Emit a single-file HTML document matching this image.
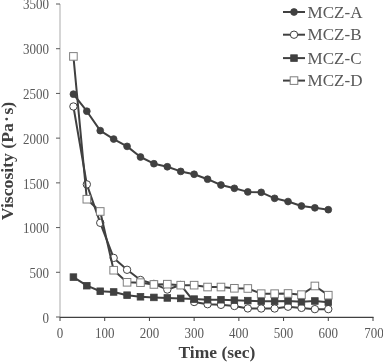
<!DOCTYPE html><html><head><meta charset="utf-8"><style>html,body{margin:0;padding:0;background:#fff;}svg{display:block;will-change:transform;}text{font-family:"Liberation Serif",serif;}</style></head><body>
<svg width="383" height="362" viewBox="0 0 383 362">
<line x1="60" y1="4" x2="60" y2="317" stroke="#bfbfbf" stroke-width="1.3"/>
<line x1="56" y1="317.00" x2="60" y2="317.00" stroke="#595959" stroke-width="1"/>
<text transform="translate(49,322.70) scale(1,1.1)" text-anchor="end" font-size="13" fill="#595959">0</text>
<line x1="56" y1="272.29" x2="60" y2="272.29" stroke="#595959" stroke-width="1"/>
<text transform="translate(49,277.99) scale(1,1.1)" text-anchor="end" font-size="13" fill="#595959">500</text>
<line x1="56" y1="227.57" x2="60" y2="227.57" stroke="#595959" stroke-width="1"/>
<text transform="translate(49,233.27) scale(1,1.1)" text-anchor="end" font-size="13" fill="#595959">1000</text>
<line x1="56" y1="182.86" x2="60" y2="182.86" stroke="#595959" stroke-width="1"/>
<text transform="translate(49,188.56) scale(1,1.1)" text-anchor="end" font-size="13" fill="#595959">1500</text>
<line x1="56" y1="138.14" x2="60" y2="138.14" stroke="#595959" stroke-width="1"/>
<text transform="translate(49,143.84) scale(1,1.1)" text-anchor="end" font-size="13" fill="#595959">2000</text>
<line x1="56" y1="93.43" x2="60" y2="93.43" stroke="#595959" stroke-width="1"/>
<text transform="translate(49,99.13) scale(1,1.1)" text-anchor="end" font-size="13" fill="#595959">2500</text>
<line x1="56" y1="48.71" x2="60" y2="48.71" stroke="#595959" stroke-width="1"/>
<text transform="translate(49,54.41) scale(1,1.1)" text-anchor="end" font-size="13" fill="#595959">3000</text>
<line x1="56" y1="4.00" x2="60" y2="4.00" stroke="#595959" stroke-width="1"/>
<text transform="translate(49,8.50) scale(1,1.1)" text-anchor="end" font-size="13" fill="#595959">3500</text>
<line x1="60" y1="317.4" x2="373.5" y2="317.4" stroke="#404040" stroke-width="1.2"/>
<line x1="60.00" y1="317" x2="60.00" y2="321" stroke="#404040" stroke-width="1"/>
<text transform="translate(60.00,337.7) scale(1,1.1)" text-anchor="middle" font-size="13" fill="#595959">0</text>
<line x1="104.71" y1="317" x2="104.71" y2="321" stroke="#404040" stroke-width="1"/>
<text transform="translate(104.71,337.7) scale(1,1.1)" text-anchor="middle" font-size="13" fill="#595959">100</text>
<line x1="149.43" y1="317" x2="149.43" y2="321" stroke="#404040" stroke-width="1"/>
<text transform="translate(149.43,337.7) scale(1,1.1)" text-anchor="middle" font-size="13" fill="#595959">200</text>
<line x1="194.14" y1="317" x2="194.14" y2="321" stroke="#404040" stroke-width="1"/>
<text transform="translate(194.14,337.7) scale(1,1.1)" text-anchor="middle" font-size="13" fill="#595959">300</text>
<line x1="238.86" y1="317" x2="238.86" y2="321" stroke="#404040" stroke-width="1"/>
<text transform="translate(238.86,337.7) scale(1,1.1)" text-anchor="middle" font-size="13" fill="#595959">400</text>
<line x1="283.57" y1="317" x2="283.57" y2="321" stroke="#404040" stroke-width="1"/>
<text transform="translate(283.57,337.7) scale(1,1.1)" text-anchor="middle" font-size="13" fill="#595959">500</text>
<line x1="328.29" y1="317" x2="328.29" y2="321" stroke="#404040" stroke-width="1"/>
<text transform="translate(328.29,337.7) scale(1,1.1)" text-anchor="middle" font-size="13" fill="#595959">600</text>
<line x1="373.00" y1="317" x2="373.00" y2="321" stroke="#404040" stroke-width="1"/>
<text transform="translate(374.00,337.7) scale(1,1.1)" text-anchor="middle" font-size="13" fill="#595959">700</text>
<text x="178.5" y="358.3" font-weight="bold" font-size="17.5" fill="#404040">Time (sec)</text>
<text transform="translate(12.5,220.2) rotate(-90)" font-weight="bold" font-size="17.7" fill="#404040">Viscosity (Pa<tspan dx="1.1" dy="-1">·</tspan><tspan dx="1.5" dy="1">s)</tspan></text>
<polyline points="73.41,94.14 86.83,111.22 100.24,130.63 113.66,139.04 127.07,146.37 140.49,157.01 153.90,163.72 167.31,166.76 180.73,171.41 194.14,174.27 207.56,179.19 220.97,185.00 234.39,188.31 247.80,191.89 261.21,192.34 274.63,198.33 288.04,201.55 301.46,206.02 314.87,207.81 328.29,209.69" fill="none" stroke="#404040" stroke-width="2" stroke-linejoin="round"/>
<circle cx="73.41" cy="94.14" r="3.4" fill="#404040" stroke="#404040" stroke-width="0.8"/>
<circle cx="86.83" cy="111.22" r="3.4" fill="#404040" stroke="#404040" stroke-width="0.8"/>
<circle cx="100.24" cy="130.63" r="3.4" fill="#404040" stroke="#404040" stroke-width="0.8"/>
<circle cx="113.66" cy="139.04" r="3.4" fill="#404040" stroke="#404040" stroke-width="0.8"/>
<circle cx="127.07" cy="146.37" r="3.4" fill="#404040" stroke="#404040" stroke-width="0.8"/>
<circle cx="140.49" cy="157.01" r="3.4" fill="#404040" stroke="#404040" stroke-width="0.8"/>
<circle cx="153.90" cy="163.72" r="3.4" fill="#404040" stroke="#404040" stroke-width="0.8"/>
<circle cx="167.31" cy="166.76" r="3.4" fill="#404040" stroke="#404040" stroke-width="0.8"/>
<circle cx="180.73" cy="171.41" r="3.4" fill="#404040" stroke="#404040" stroke-width="0.8"/>
<circle cx="194.14" cy="174.27" r="3.4" fill="#404040" stroke="#404040" stroke-width="0.8"/>
<circle cx="207.56" cy="179.19" r="3.4" fill="#404040" stroke="#404040" stroke-width="0.8"/>
<circle cx="220.97" cy="185.00" r="3.4" fill="#404040" stroke="#404040" stroke-width="0.8"/>
<circle cx="234.39" cy="188.31" r="3.4" fill="#404040" stroke="#404040" stroke-width="0.8"/>
<circle cx="247.80" cy="191.89" r="3.4" fill="#404040" stroke="#404040" stroke-width="0.8"/>
<circle cx="261.21" cy="192.34" r="3.4" fill="#404040" stroke="#404040" stroke-width="0.8"/>
<circle cx="274.63" cy="198.33" r="3.4" fill="#404040" stroke="#404040" stroke-width="0.8"/>
<circle cx="288.04" cy="201.55" r="3.4" fill="#404040" stroke="#404040" stroke-width="0.8"/>
<circle cx="301.46" cy="206.02" r="3.4" fill="#404040" stroke="#404040" stroke-width="0.8"/>
<circle cx="314.87" cy="207.81" r="3.4" fill="#404040" stroke="#404040" stroke-width="0.8"/>
<circle cx="328.29" cy="209.69" r="3.4" fill="#404040" stroke="#404040" stroke-width="0.8"/>
<polyline points="73.41,106.49 86.83,184.38 100.24,222.83 113.66,257.89 127.07,269.78 140.49,279.98 153.90,283.91 167.31,289.55 180.73,284.98 194.14,301.98 207.56,304.21 220.97,304.84 234.39,306.00 247.80,308.41 261.21,308.50 274.63,308.50 288.04,306.72 301.46,307.88 314.87,309.13 328.29,309.13" fill="none" stroke="#404040" stroke-width="2" stroke-linejoin="round"/>
<circle cx="73.41" cy="106.49" r="3.7" fill="#fff" stroke="#404040" stroke-width="1"/>
<circle cx="86.83" cy="184.38" r="3.7" fill="#fff" stroke="#404040" stroke-width="1"/>
<circle cx="100.24" cy="222.83" r="3.7" fill="#fff" stroke="#404040" stroke-width="1"/>
<circle cx="113.66" cy="257.89" r="3.7" fill="#fff" stroke="#404040" stroke-width="1"/>
<circle cx="127.07" cy="269.78" r="3.7" fill="#fff" stroke="#404040" stroke-width="1"/>
<circle cx="140.49" cy="279.98" r="3.7" fill="#fff" stroke="#404040" stroke-width="1"/>
<circle cx="153.90" cy="283.91" r="3.7" fill="#fff" stroke="#404040" stroke-width="1"/>
<circle cx="167.31" cy="289.55" r="3.7" fill="#fff" stroke="#404040" stroke-width="1"/>
<circle cx="180.73" cy="284.98" r="3.7" fill="#fff" stroke="#404040" stroke-width="1"/>
<circle cx="194.14" cy="301.98" r="3.7" fill="#fff" stroke="#404040" stroke-width="1"/>
<circle cx="207.56" cy="304.21" r="3.7" fill="#fff" stroke="#404040" stroke-width="1"/>
<circle cx="220.97" cy="304.84" r="3.7" fill="#fff" stroke="#404040" stroke-width="1"/>
<circle cx="234.39" cy="306.00" r="3.7" fill="#fff" stroke="#404040" stroke-width="1"/>
<circle cx="247.80" cy="308.41" r="3.7" fill="#fff" stroke="#404040" stroke-width="1"/>
<circle cx="261.21" cy="308.50" r="3.7" fill="#fff" stroke="#404040" stroke-width="1"/>
<circle cx="274.63" cy="308.50" r="3.7" fill="#fff" stroke="#404040" stroke-width="1"/>
<circle cx="288.04" cy="306.72" r="3.7" fill="#fff" stroke="#404040" stroke-width="1"/>
<circle cx="301.46" cy="307.88" r="3.7" fill="#fff" stroke="#404040" stroke-width="1"/>
<circle cx="314.87" cy="309.13" r="3.7" fill="#fff" stroke="#404040" stroke-width="1"/>
<circle cx="328.29" cy="309.13" r="3.7" fill="#fff" stroke="#404040" stroke-width="1"/>
<polyline points="73.41,277.11 86.83,285.70 100.24,291.24 113.66,291.96 127.07,295.18 140.49,296.79 153.90,297.42 167.31,297.95 180.73,298.40 194.14,299.11 207.56,299.74 220.97,299.74 234.39,300.19 247.80,300.63 261.21,301.17 274.63,301.35 288.04,300.90 301.46,301.80 314.87,300.99 328.29,302.15" fill="none" stroke="#404040" stroke-width="2" stroke-linejoin="round"/>
<rect x="70.11" y="273.81" width="6.6" height="6.6" fill="#404040" stroke="#404040" stroke-width="0.8"/>
<rect x="83.53" y="282.40" width="6.6" height="6.6" fill="#404040" stroke="#404040" stroke-width="0.8"/>
<rect x="96.94" y="287.94" width="6.6" height="6.6" fill="#404040" stroke="#404040" stroke-width="0.8"/>
<rect x="110.36" y="288.66" width="6.6" height="6.6" fill="#404040" stroke="#404040" stroke-width="0.8"/>
<rect x="123.77" y="291.88" width="6.6" height="6.6" fill="#404040" stroke="#404040" stroke-width="0.8"/>
<rect x="137.19" y="293.49" width="6.6" height="6.6" fill="#404040" stroke="#404040" stroke-width="0.8"/>
<rect x="150.60" y="294.12" width="6.6" height="6.6" fill="#404040" stroke="#404040" stroke-width="0.8"/>
<rect x="164.01" y="294.65" width="6.6" height="6.6" fill="#404040" stroke="#404040" stroke-width="0.8"/>
<rect x="177.43" y="295.10" width="6.6" height="6.6" fill="#404040" stroke="#404040" stroke-width="0.8"/>
<rect x="190.84" y="295.81" width="6.6" height="6.6" fill="#404040" stroke="#404040" stroke-width="0.8"/>
<rect x="204.26" y="296.44" width="6.6" height="6.6" fill="#404040" stroke="#404040" stroke-width="0.8"/>
<rect x="217.67" y="296.44" width="6.6" height="6.6" fill="#404040" stroke="#404040" stroke-width="0.8"/>
<rect x="231.09" y="296.89" width="6.6" height="6.6" fill="#404040" stroke="#404040" stroke-width="0.8"/>
<rect x="244.50" y="297.33" width="6.6" height="6.6" fill="#404040" stroke="#404040" stroke-width="0.8"/>
<rect x="257.91" y="297.87" width="6.6" height="6.6" fill="#404040" stroke="#404040" stroke-width="0.8"/>
<rect x="271.33" y="298.05" width="6.6" height="6.6" fill="#404040" stroke="#404040" stroke-width="0.8"/>
<rect x="284.74" y="297.60" width="6.6" height="6.6" fill="#404040" stroke="#404040" stroke-width="0.8"/>
<rect x="298.16" y="298.50" width="6.6" height="6.6" fill="#404040" stroke="#404040" stroke-width="0.8"/>
<rect x="311.57" y="297.69" width="6.6" height="6.6" fill="#404040" stroke="#404040" stroke-width="0.8"/>
<rect x="324.99" y="298.85" width="6.6" height="6.6" fill="#404040" stroke="#404040" stroke-width="0.8"/>
<polyline points="73.41,56.41 86.83,199.22 100.24,211.47 113.66,270.23 127.07,282.30 140.49,282.66 153.90,284.45 167.31,284.18 180.73,285.16 194.14,285.16 207.56,287.04 220.97,287.04 234.39,288.29 247.80,288.47 261.21,293.66 274.63,293.66 288.04,293.48 301.46,294.64 314.87,285.97 328.29,295.18" fill="none" stroke="#404040" stroke-width="2" stroke-linejoin="round"/>
<rect x="69.61" y="52.61" width="7.6" height="7.6" fill="#fff" stroke="#7f7f7f" stroke-width="1"/>
<rect x="83.03" y="195.42" width="7.6" height="7.6" fill="#fff" stroke="#7f7f7f" stroke-width="1"/>
<rect x="96.44" y="207.67" width="7.6" height="7.6" fill="#fff" stroke="#7f7f7f" stroke-width="1"/>
<rect x="109.86" y="266.43" width="7.6" height="7.6" fill="#fff" stroke="#7f7f7f" stroke-width="1"/>
<rect x="123.27" y="278.50" width="7.6" height="7.6" fill="#fff" stroke="#7f7f7f" stroke-width="1"/>
<rect x="136.69" y="278.86" width="7.6" height="7.6" fill="#fff" stroke="#7f7f7f" stroke-width="1"/>
<rect x="150.10" y="280.65" width="7.6" height="7.6" fill="#fff" stroke="#7f7f7f" stroke-width="1"/>
<rect x="163.51" y="280.38" width="7.6" height="7.6" fill="#fff" stroke="#7f7f7f" stroke-width="1"/>
<rect x="176.93" y="281.36" width="7.6" height="7.6" fill="#fff" stroke="#7f7f7f" stroke-width="1"/>
<rect x="190.34" y="281.36" width="7.6" height="7.6" fill="#fff" stroke="#7f7f7f" stroke-width="1"/>
<rect x="203.76" y="283.24" width="7.6" height="7.6" fill="#fff" stroke="#7f7f7f" stroke-width="1"/>
<rect x="217.17" y="283.24" width="7.6" height="7.6" fill="#fff" stroke="#7f7f7f" stroke-width="1"/>
<rect x="230.59" y="284.49" width="7.6" height="7.6" fill="#fff" stroke="#7f7f7f" stroke-width="1"/>
<rect x="244.00" y="284.67" width="7.6" height="7.6" fill="#fff" stroke="#7f7f7f" stroke-width="1"/>
<rect x="257.41" y="289.86" width="7.6" height="7.6" fill="#fff" stroke="#7f7f7f" stroke-width="1"/>
<rect x="270.83" y="289.86" width="7.6" height="7.6" fill="#fff" stroke="#7f7f7f" stroke-width="1"/>
<rect x="284.24" y="289.68" width="7.6" height="7.6" fill="#fff" stroke="#7f7f7f" stroke-width="1"/>
<rect x="297.66" y="290.84" width="7.6" height="7.6" fill="#fff" stroke="#7f7f7f" stroke-width="1"/>
<rect x="311.07" y="282.17" width="7.6" height="7.6" fill="#fff" stroke="#7f7f7f" stroke-width="1"/>
<rect x="324.49" y="291.38" width="7.6" height="7.6" fill="#fff" stroke="#7f7f7f" stroke-width="1"/>
<line x1="283" y1="12" x2="305" y2="12" stroke="#404040" stroke-width="2"/>
<circle cx="294.00" cy="12.00" r="3.4" fill="#404040" stroke="#404040" stroke-width="0.8"/>
<text transform="translate(307.5,17.60) scale(1.035,1)" font-size="16.5" fill="#595959">MCZ-A</text>
<line x1="283" y1="34.7" x2="305" y2="34.7" stroke="#404040" stroke-width="2"/>
<circle cx="294.00" cy="34.70" r="3.7" fill="#fff" stroke="#404040" stroke-width="1"/>
<text transform="translate(307.5,40.30) scale(1.035,1)" font-size="16.5" fill="#595959">MCZ-B</text>
<line x1="283" y1="58.1" x2="305" y2="58.1" stroke="#404040" stroke-width="2"/>
<rect x="290.70" y="54.80" width="6.6" height="6.6" fill="#404040" stroke="#404040" stroke-width="0.8"/>
<text transform="translate(307.5,63.70) scale(1.035,1)" font-size="16.5" fill="#595959">MCZ-C</text>
<line x1="283" y1="80.6" x2="305" y2="80.6" stroke="#404040" stroke-width="2"/>
<rect x="290.20" y="76.80" width="7.6" height="7.6" fill="#fff" stroke="#7f7f7f" stroke-width="1"/>
<text transform="translate(307.5,86.20) scale(1.035,1)" font-size="16.5" fill="#595959">MCZ-D</text>
</svg></body></html>
